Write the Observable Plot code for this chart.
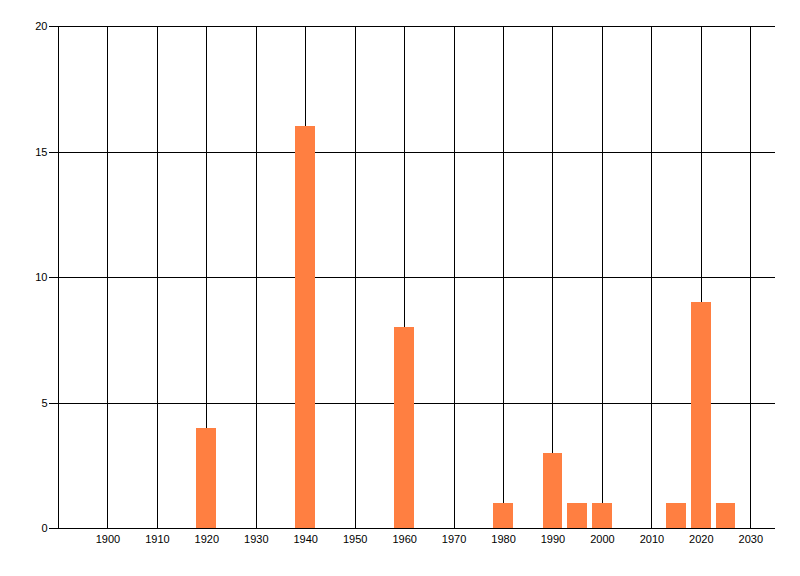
<!DOCTYPE html>
<html>
<head>
<meta charset="utf-8">
<script src="https://cdn.jsdelivr.net/npm/d3@7"></script>
<script src="https://cdn.jsdelivr.net/npm/@observablehq/plot@0.6"></script>
<style>
  html, body { margin: 0; padding: 0; background: #fff; }
  svg { display: block; }
  svg line, svg path, svg rect { shape-rendering: crispEdges; }
</style>
</head>
<body>
<div id="chart"></div>
<script>
const years = [1920, 1940, 1960, 1980, 1990, 1995, 2000, 2015, 2020, 2025];
const counts = [4, 16, 8, 1, 3, 1, 1, 1, 9, 1];
const xTicks = [1900, 1910, 1920, 1930, 1940, 1950, 1960, 1970, 1980, 1990, 2000, 2010, 2020, 2030];
const yTicks = [0, 5, 10, 15, 20];
const xDomain = [1890, 2035];
const yDomain = [0, 20];
const barHalfWidth = 2;

const data = years.map((y, i) => ({year: y, count: counts[i]}));

const chart = Plot.plot({
  width: 800,
  height: 576,
  marginLeft: 58,
  marginRight: 25,
  marginTop: 26,
  marginBottom: 48,
  style: {fontFamily: "'Liberation Sans', Arial, sans-serif", fontSize: "11px", color: "#000", background: "#fff"},
  x: {type: "linear", domain: xDomain},
  y: {domain: yDomain},
  marks: [
    Plot.ruleX(xTicks, {y1: yDomain[0], y2: yDomain[1], stroke: "#000", strokeWidth: 1}),
    Plot.ruleY(yTicks, {x1: xDomain[0], x2: xDomain[1], stroke: "#000", strokeWidth: 1}),
    Plot.ruleX([xDomain[0]], {y1: yDomain[0], y2: yDomain[1], stroke: "#000", strokeWidth: 1}),
    Plot.rectY(data, {x1: d => d.year - barHalfWidth, x2: d => d.year + barHalfWidth, y: "count", fill: "#ff7f41"}),
    Plot.axisY({ticks: yTicks, tickSize: 9, tickPadding: 2, tickFormat: d => String(d), label: null, stroke: "#000"}),
    Plot.axisX({ticks: xTicks, tickSize: 0, tickPadding: 7, tickFormat: d => String(d), label: null})
  ]
});
document.getElementById("chart").appendChild(chart);
</script>
</body>
</html>
